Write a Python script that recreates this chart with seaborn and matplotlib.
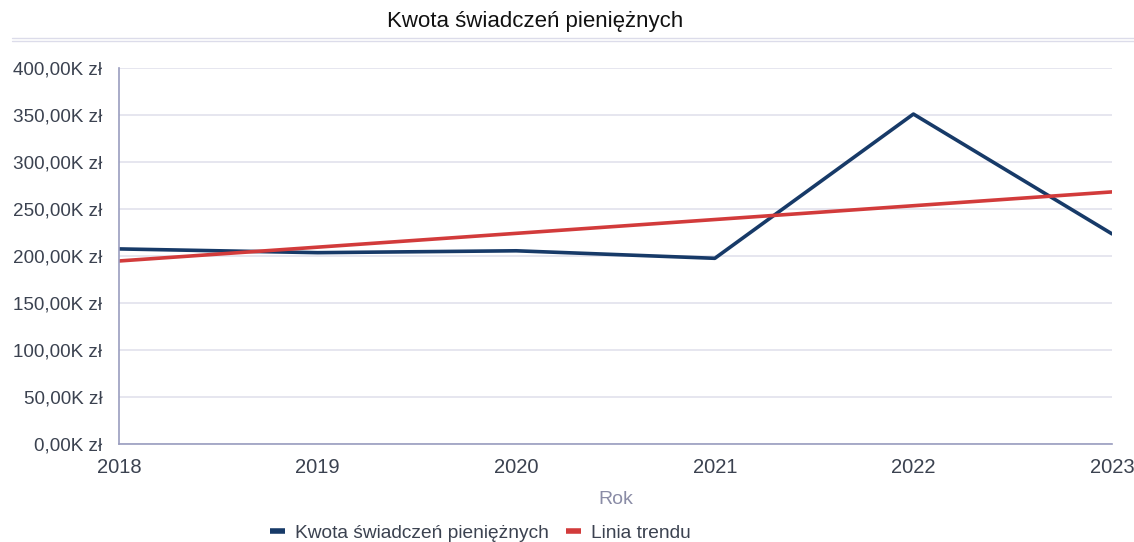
import matplotlib.pyplot as plt
import matplotlib.ticker as mticker
from matplotlib.lines import Line2D
import pandas as pd
import seaborn as sns

# Values (thousands of zł)
YEARS = [2018, 2019, 2020, 2021, 2022, 2023]
AMOUNTS_K = [207.5, 203.5, 205.5, 197.5, 351.0, 223.5]

SERIES_LABEL = "Kwota świadczeń pieniężnych"
TREND_LABEL = "Linia trendu"
TITLE = "Kwota świadczeń pieniężnych"
X_LABEL = "Rok"

LINE_COLOR = "#173a68"
TREND_COLOR = "#d23b3b"
GRID_COLOR = "#e2e2ec"
SPINE_COLOR = "#9a9dbf"
TEXT_COLOR = "#3b4250"

sns.set_theme(style="white")
plt.rcParams["font.family"] = ["Liberation Sans", "DejaVu Sans"]

df = pd.DataFrame({"year": YEARS, "amount": AMOUNTS_K})

fig = plt.figure(figsize=(11.34, 5.42), dpi=100)
ax = fig.add_axes([0.105, 0.181, 0.8756, 0.6935])

sns.lineplot(data=df, x="year", y="amount", color=LINE_COLOR, lw=2.6,
             ax=ax, legend=False)
ax.lines[-1].set_label(SERIES_LABEL)
# trend line = least-squares fit of the series above
sns.regplot(data=df, x="year", y="amount", scatter=False, ci=None,
            truncate=True, ax=ax, line_kws={"color": TREND_COLOR, "lw": 2.6})
ax.lines[-1].set_label(TREND_LABEL)

ax.set_xlim(YEARS[0], YEARS[-1])
ax.set_ylim(0, 400)
ax.set_xticks(YEARS)
ax.yaxis.set_major_locator(mticker.MultipleLocator(50))
ax.yaxis.set_major_formatter(
    mticker.FuncFormatter(lambda v, _: f"{v:,.2f}K zł".replace(".", ",")))
ax.grid(axis="y", color=GRID_COLOR, lw=1.2)
ax.set_axisbelow(True)
for s in ("top", "right"):
    ax.spines[s].set_visible(False)
for s in ("left", "bottom"):
    ax.spines[s].set_color(SPINE_COLOR)
    ax.spines[s].set_linewidth(1.2)
ax.tick_params(axis="both", length=0, labelcolor=TEXT_COLOR)
ax.tick_params(axis="y", pad=12, labelsize=13.6)
ax.tick_params(axis="x", pad=10, labelsize=14.5)
ax.set_ylabel("")
ax.set_xlabel(X_LABEL, fontsize=14, color="#8a8ca6", labelpad=10)

fig.text(535 / 1134, 1 - 22 / 542, TITLE, ha="center", va="center",
         fontsize=16, color="#111111")
for ypx in (38, 41):
    fig.add_artist(Line2D([12 / 1134, 1.0], [1 - ypx / 542] * 2,
                          color="#dcdcea", lw=1.0))

handles = [Line2D([0], [0], color=LINE_COLOR, lw=4, solid_capstyle="butt"),
           Line2D([0], [0], color=TREND_COLOR, lw=4, solid_capstyle="butt")]
fig.legend(handles, [SERIES_LABEL, TREND_LABEL], loc="center", ncol=2,
           frameon=False, bbox_to_anchor=(480 / 1134, 1 - 533 / 542),
           fontsize=13.8, handlelength=0.8, handletextpad=0.5,
           columnspacing=0.9, labelcolor=TEXT_COLOR)

fig.savefig("out.png", dpi=100)
